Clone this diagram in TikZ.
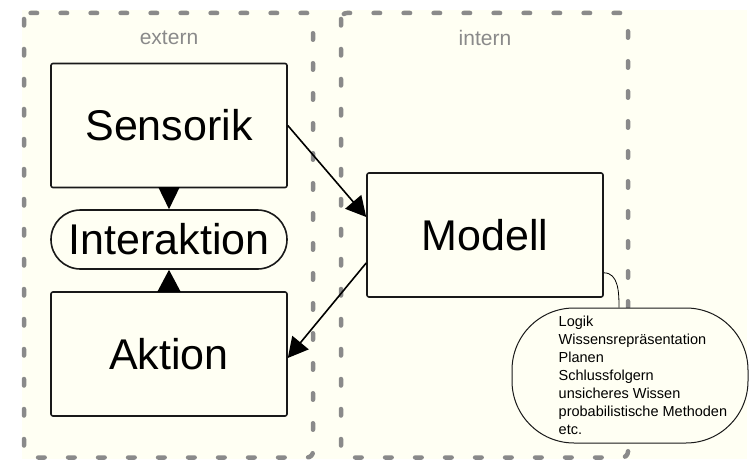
\documentclass[tikz,border=0pt]{standalone}
\usepackage{fontspec}
\setmainfont{Liberation Sans}
\usetikzlibrary{arrows.meta,calc}
\definecolor{creme}{HTML}{FFFFF3}
\definecolor{strich}{HTML}{8A8A8A}

\begin{document}
\begin{tikzpicture}[x=1pt,y=1pt,>={Triangle[length=20pt,width=21pt]},
  block/.style={draw=black!90,fill=creme,line width=1.6pt,rounded corners=2pt,minimum width=236pt,minimum height=124pt,font=\fontsize{43}{48}\selectfont},
  bereich/.style={draw=strich,line width=4.5pt,line cap=round,dash pattern=on 6.5pt off 23.5pt,rounded corners=6pt},
  titel/.style={text=strich,font=\fontsize{21}{24}\selectfont}]
  \useasboundingbox (0,0) rectangle (753,459);
  % Background
  \fill[creme] (22,0) rectangle (747,449);
  % Regions
  \draw[bereich] (24,446) rectangle (313,1.5);
  \draw[bereich] (341,446) rectangle (628,1.5);
  \node[titel] (extern) at (169,421) {extern};
  \node[titel] (intern) at (485,421) {intern};
  % Blocks
  \node[block] (Sensorik) at (169,333.5) {Sensorik};
  \node[block,minimum height=59pt,rounded corners=29.5pt] (Interaktion) at (169,219.5) {Interaktion};
  \node[block] (Aktion) at (169,105) {Aktion};
  \node[block] (Modell) at (485,224) {Modell};
  % Knowledge callout
  \node[draw=black!90,fill=creme,line width=1pt,rounded corners=62pt,minimum width=236pt,minimum height=135pt] (Wissen) at (630,83.5) {};
  \node[anchor=west,inner sep=0pt,align=left,font=\fontsize{14.5}{18}\selectfont] (Liste) at ($(Wissen.west)+(47,0)$)
    {Logik\\Wissensrepräsentation\\Planen\\Schlussfolgern\\unsicheres Wissen\\probabilistische Methoden\\etc.};
  \draw[line width=0.8pt] ([yshift=25pt]Modell.south east) to[out=0,in=90] ([xshift=-11pt]Wissen.north);
  % Arrows
  \draw[-{Triangle[length=22pt,width=21pt]},line width=1.6pt] (Sensorik.south) -- (Interaktion.north);
  \draw[-{Triangle[length=22pt,width=23pt]},line width=1.6pt] (Aktion.north) -- (Interaktion.south);
  \draw[->,line width=1.6pt] (Sensorik.east) -- ([yshift=18pt]Modell.west);
  \draw[->,line width=1.6pt] ([yshift=-28pt]Modell.west) -- ([yshift=-4pt]Aktion.east);
\end{tikzpicture}
\end{document}
